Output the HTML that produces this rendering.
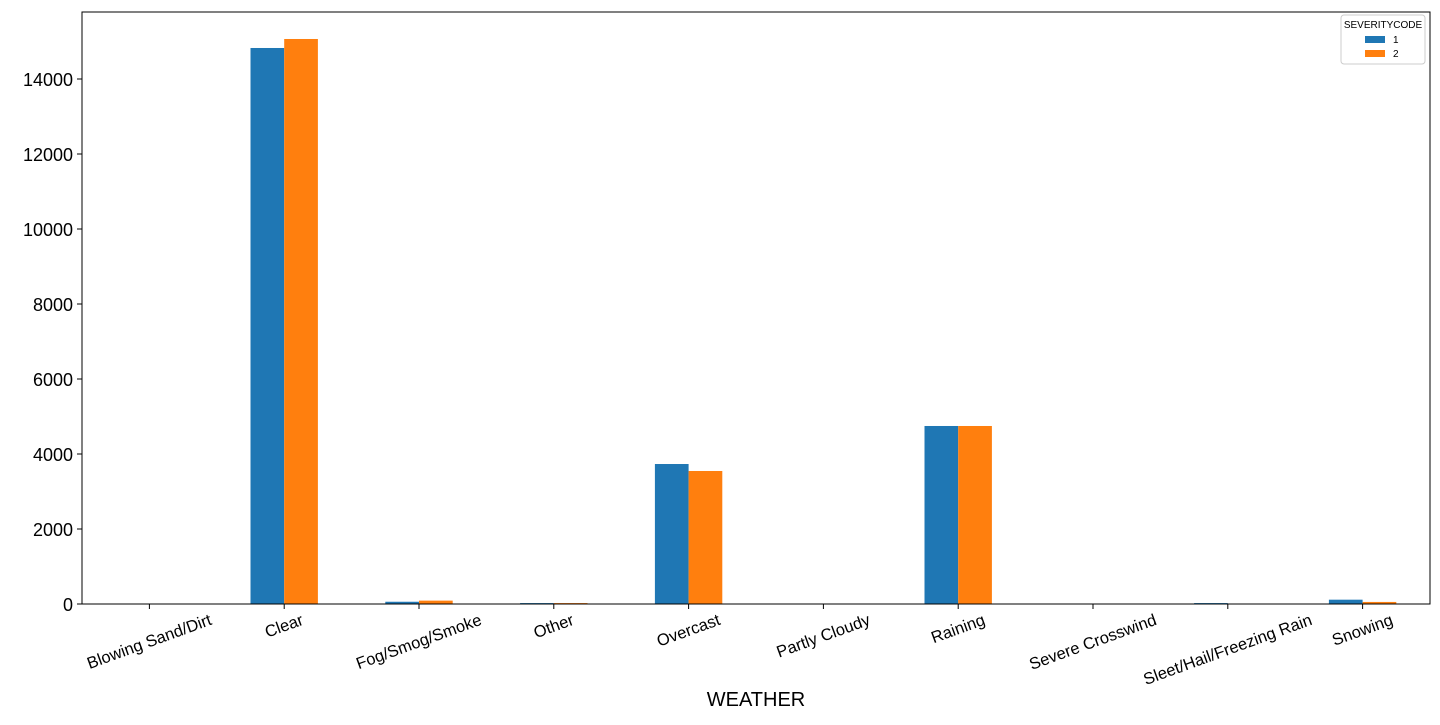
<!DOCTYPE html>
<html><head><meta charset="utf-8"><style>
body{margin:0;background:#fff;font-family:"Liberation Sans","DejaVu Sans",sans-serif}
svg text{font-family:"Liberation Sans","DejaVu Sans",sans-serif}
</style></head><body>
<svg id="chart" width="1440" height="720" xmlns="http://www.w3.org/2000/svg"></svg>
<script>
const categories=["Blowing Sand/Dirt","Clear","Fog/Smog/Smoke","Other","Overcast","Partly Cloudy","Raining","Severe Crosswind","Sleet/Hail/Freezing Rain","Snowing"];
const series1=[2,14827,60,25,3733,0,4747,1,25,115];
const series2=[1,15067,90,25,3547,1,4747,1,5,55];
const yTicks=[0,2000,4000,6000,8000,10000,12000,14000];
const seriesNames=["1","2"];
const colors=["#1f77b4","#ff7f0e"];
const L=82,R=1430,T=12,B=604;
const y=v=>B-v*(525/14000);
const step=(R-L)/categories.length;
const xc=i=>L+step*(i+0.5);
const svg=document.getElementById('chart');
const NS="http://www.w3.org/2000/svg";
function mk(tag,attrs,txt){const e=document.createElementNS(NS,tag);for(const k in attrs)e.setAttribute(k,attrs[k]);if(txt!==undefined)e.textContent=txt;svg.appendChild(e);return e;}
const bw=step*0.25;
[series1,series2].forEach((s,si)=>{s.forEach((v,i)=>{
const r=mk('rect',{x:xc(i)-step*0.25+si*bw,y:y(v),width:bw,height:B-y(v),fill:colors[si]});


});});
yTicks.forEach(t=>{
const l=mk('line',{x1:L-5,x2:L,y1:y(t),y2:y(t),stroke:'#000','stroke-width':1});


const tx=mk('text',{x:L-9,y:y(t)+7,'text-anchor':'end','font-size':18,'textLength':0},t);
tx.removeAttribute('textLength');


});
const s20=Math.sin(20*Math.PI/180),c20=Math.cos(20*Math.PI/180);
categories.forEach((c,i)=>{
const l=mk('line',{x1:xc(i),x2:xc(i),y1:B,y2:B+5,stroke:'#000','stroke-width':1});


const tx=mk('text',{x:0,y:0,'text-anchor':'middle','font-size':16.5,'dominant-baseline':'central'},c);


const w=tx.getComputedTextLength();
const h=16;
const bh=w*s20+h*c20;
const cx=xc(i), cy=B+8+bh/2;
tx.setAttribute('x',cx);tx.setAttribute('y',cy);
tx.setAttribute('transform',`rotate(-20 ${cx} ${cy})`);
});
const fr=mk('rect',{x:L,y:T,width:R-L,height:B-T,fill:'none',stroke:'#000','stroke-width':1});


const xt=mk('text',{x:(L+R)/2,y:706,'text-anchor':'middle','font-size':20},'WEATHER');


const lg=mk('rect',{x:1341,y:15,width:84,height:49,rx:3,fill:'#fff',stroke:'#ccc'});


const lt=mk('text',{x:1383,y:28,'text-anchor':'middle','font-size':10},'SEVERITYCODE');


seriesNames.forEach((n,i)=>{
const r=mk('rect',{x:1365,y:36+i*14,width:20,height:7,fill:colors[i]});


const t=mk('text',{x:1393,y:43+i*14,'font-size':10},n);


});
</script>
</body></html>
